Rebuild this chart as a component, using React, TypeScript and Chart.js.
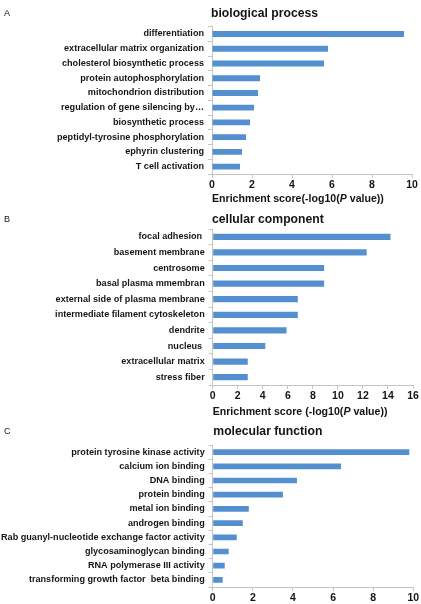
import React, { useEffect, useRef } from "react";
import { Chart, registerables } from "chart.js";

Chart.register(...registerables);

// GO enrichment results (-log10 P value) for the three ontologies
const bpTerms = [
  "differentiation",
  "extracellular matrix organization",
  "cholesterol biosynthetic process",
  "protein autophosphorylation",
  "mitochondrion distribution",
  "regulation of gene silencing by…",
  "biosynthetic process",
  "peptidyl-tyrosine phosphorylation",
  "ephyrin clustering",
  "T cell activation",
];
const bpScores = [9.6, 5.8, 5.6, 2.4, 2.3, 2.1, 1.9, 1.7, 1.5, 1.4];

const ccTerms = [
  "focal adhesion ",
  "basement membrane",
  "centrosome",
  "basal plasma mmembran",
  "external side of plasma membrane",
  "intermediate filament cytoskeleton",
  "dendrite",
  "nucleus ",
  "extracellular matrix",
  "stress fiber",
];
const ccScores = [14.2, 12.3, 8.9, 8.9, 6.8, 6.8, 5.9, 4.2, 2.8, 2.8];

const mfTerms = [
  "protein tyrosine kinase activity",
  "calcium ion binding",
  "DNA binding",
  "protein binding",
  "metal ion binding",
  "androgen binding",
  "Rab guanyl-nucleotide exchange factor activity",
  "glycosaminoglycan binding",
  "RNA polymerase III activity",
  "transforming growth factor  beta binding",
];
const mfScores = [9.8, 6.4, 4.2, 3.5, 1.8, 1.5, 1.2, 0.8, 0.6, 0.5];

const bpMax = 10;
const ccMax = 16;
const mfMax = 10;
const tickStep = 2;

const FONT = '"Liberation Sans", Arial, Helvetica, sans-serif';
const BAR = "#5490d0";
const AXIS = "#c4c4c4";
const INK = "#141414";

type PanelCfg = {
  letter: string;
  title: string;
  axisTitle: [string, string, string] | null;
  terms: string[];
  scores: number[];
  max: number;
  offset: number;
  height: number;
  padTop: number;
  padRight: number;
  yWidth: number;
  xHeight: number;
  titleY: number;
  titleX: number;
  axisTitleY: number;
};

const panels: PanelCfg[] = [
  {
    letter: "A",
    title: "biological process",
    axisTitle: ["Enrichment score(-log10(", "P", " value))"],
    terms: bpTerms,
    scores: bpScores,
    max: bpMax,
    offset: 0,
    height: 206,
    padTop: 26.6,
    padRight: 9,
    yWidth: 212,
    xHeight: 32,
    titleY: 14,
    titleX: 211,
    axisTitleY: 199,
  },
  {
    letter: "B",
    title: "cellular component",
    axisTitle: ["Enrichment score (-log10(", "P", " value))"],
    terms: ccTerms,
    scores: ccScores,
    max: ccMax,
    offset: 206,
    height: 212,
    padTop: 23,
    padRight: 8,
    yWidth: 212.7,
    xHeight: 33,
    titleY: 14,
    titleX: 212,
    axisTitleY: 205.7,
  },
  {
    letter: "C",
    title: "molecular function",
    axisTitle: null,
    terms: mfTerms,
    scores: mfScores,
    max: mfMax,
    offset: 418,
    height: 186,
    padTop: 27,
    padRight: 7.7,
    yWidth: 212.7,
    xHeight: 17,
    titleY: 14,
    titleX: 213.3,
    axisTitleY: 0,
  },
];

function Panel({ cfg }: { cfg: PanelCfg }) {
  const ref = useRef<HTMLCanvasElement>(null);

  useEffect(() => {
    const canvas = ref.current;
    if (!canvas) return;

    // panel letter, panel heading and the x-axis caption (with italic P)
    const decor = {
      id: "decor",
      afterDraw(chart: any) {
        const ctx = chart.ctx as CanvasRenderingContext2D;
        ctx.save();
        ctx.fillStyle = INK;
        ctx.textBaseline = "middle";
        ctx.textAlign = "left";

        ctx.font = `9px ${FONT}`;
        ctx.fillText(cfg.letter, 4, cfg.titleY);

        ctx.font = `bold 12.2px ${FONT}`;
        ctx.fillText(cfg.title, cfg.titleX, cfg.titleY);

        if (cfg.axisTitle) {
          const [a, p, b] = cfg.axisTitle;
          let x = chart.chartArea.left;
          const y = cfg.axisTitleY;
          ctx.font = `bold 10.6px ${FONT}`;
          ctx.fillText(a, x, y);
          x += ctx.measureText(a).width;
          ctx.font = `italic bold 10.6px ${FONT}`;
          ctx.fillText(p, x, y);
          x += ctx.measureText(p).width;
          ctx.font = `bold 10.6px ${FONT}`;
          ctx.fillText(b, x, y);
        }
        ctx.restore();
      },
    };

    const chart = new Chart(canvas, {
      type: "bar",
      data: {
        labels: cfg.terms,
        datasets: [
          {
            data: cfg.scores,
            backgroundColor: BAR,
            borderWidth: 0,
            barPercentage: 0.4,
            categoryPercentage: 1,
          },
        ],
      },
      options: {
        indexAxis: "y",
        responsive: false,
        animation: false,
        devicePixelRatio: 1,
        layout: {
          padding: { top: cfg.padTop, right: cfg.padRight, left: 0, bottom: 0 },
        },
        plugins: {
          legend: { display: false },
          tooltip: { enabled: false },
          title: { display: false },
        },
        scales: {
          x: {
            type: "linear",
            min: 0,
            max: cfg.max,
            ticks: {
              stepSize: tickStep,
              color: INK,
              padding: 1,
              maxRotation: 0,
              font: { family: FONT, size: 10.5, weight: "bold" },
            },
            grid: {
              drawOnChartArea: false,
              drawTicks: true,
              tickLength: 4,
              color: AXIS,
            },
            border: { display: true, color: AXIS, width: 1 },
            afterFit: (s: any) => {
              s.height = cfg.xHeight;
            },
          },
          y: {
            type: "category",
            ticks: {
              color: INK,
              padding: 4,
              autoSkip: false,
              font: { family: FONT, size: 9.1, weight: "bold" },
            },
            grid: {
              drawOnChartArea: false,
              drawTicks: true,
              tickLength: 4,
              offset: true,
              color: AXIS,
            },
            border: { display: true, color: AXIS, width: 1 },
            afterFit: (s: any) => {
              s.width = cfg.yWidth;
            },
          },
        },
      },
      plugins: [decor],
    });

    return () => chart.destroy();
  }, [cfg]);

  return (
    <canvas
      ref={ref}
      width={421}
      height={cfg.height}
      style={{ position: "absolute", left: 0, top: cfg.offset, display: "block" }}
    />
  );
}

export default function App() {
  return (
    <div
      style={{
        position: "absolute",
        left: 0,
        top: 0,
        width: 421,
        height: 604,
        background: "#ffffff",
        overflow: "hidden",
      }}
    >
      {panels.map((p) => (
        <Panel key={p.letter} cfg={p} />
      ))}
    </div>
  );
}
